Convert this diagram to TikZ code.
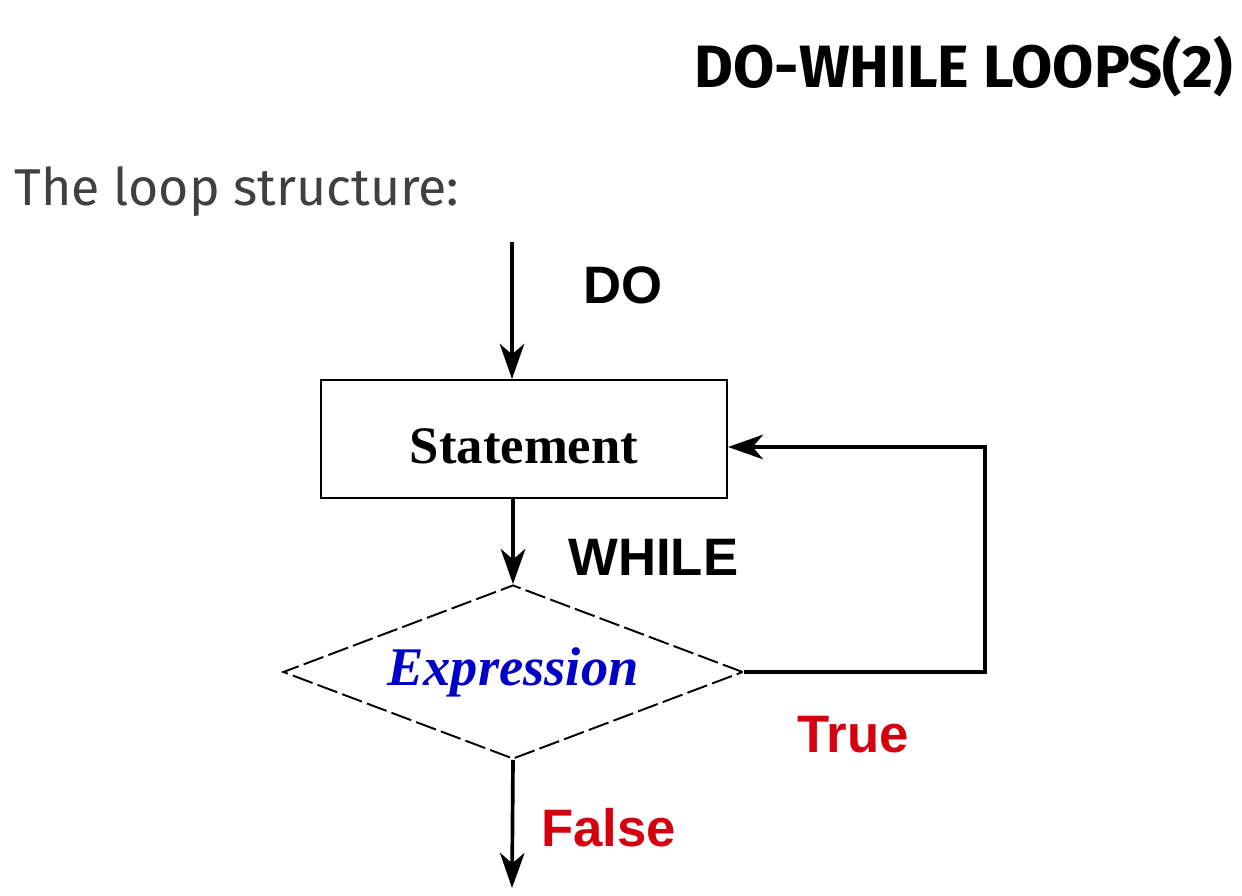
\documentclass[tikz,border=0pt]{standalone}
\usepackage{fontspec}
\setmainfont{Liberation Serif}
\setsansfont{Liberation Sans}
\newfontfamily\titlefont{Fira Sans}
\usetikzlibrary{arrows.meta,shapes.geometric}
\definecolor{lblred}{RGB}{212,0,16}
\definecolor{exprblue}{RGB}{0,0,200}
\definecolor{subgray}{RGB}{64,64,64}
\tikzset{
  arr/.style={line width=2.1pt,-{Stealth[length=20pt,width=14pt,inset=6pt]}},
  stmtbox/.style={draw,line width=1.2pt,minimum width=8.12cm,minimum height=2.36cm,inner sep=0pt,font=\fontsize{30}{32}\selectfont\bfseries},
  decbox/.style={draw,diamond,aspect=2.64,dashed,dash pattern=on 12pt off 3pt,line width=1.1pt,minimum width=9.2cm,minimum height=3.48cm,inner sep=0pt,font=\fontsize{31}{33}\selectfont\bfseries\itshape,text=exprblue},
  lbl/.style={anchor=base west,inner sep=0pt,font=\sffamily\bfseries\fontsize{30}{32}\selectfont},
}
\begin{document}
\begin{tikzpicture}[x=0.02cm,y=-0.02cm]
\useasboundingbox (0,0) rectangle (1242,896);
\node[anchor=base east,inner sep=0pt,font=\titlefont\bfseries\fontsize{34}{36}\selectfont] (title) at (1233,87) {DO-WHILE LOOPS(2)};
\node[anchor=base west,inner sep=0pt,text=subgray,font=\titlefont\fontsize{29.5}{32}\selectfont] (sub) at (14,205) {The loop structure:};
\node[stmtbox] (stmt) at (524,439) {\raisebox{-14pt}[0pt][0pt]{Statement}};
\node[decbox] (expr) at (513,672) {Expression};
\coordinate (top) at (512,242);
\coordinate (bot) at (512,888);
\coordinate (corner) at (985,447);
\draw[arr] (top) -- (top |- stmt.north);
\draw[arr] (stmt.south -| expr.north) -- (expr.north);
\draw[arr] (expr.east) -| (corner) -- (corner -| stmt.east);
\draw[arr] (expr.south) -- (bot);
\node[lbl] (do) at (583,303) {DO};
\node[lbl] (while) at (568,575) {WHILE};
\node[lbl,text=lblred] (true) at (797,752) {True};
\node[lbl,text=lblred] (false) at (541,846) {False};
\end{tikzpicture}
\end{document}
